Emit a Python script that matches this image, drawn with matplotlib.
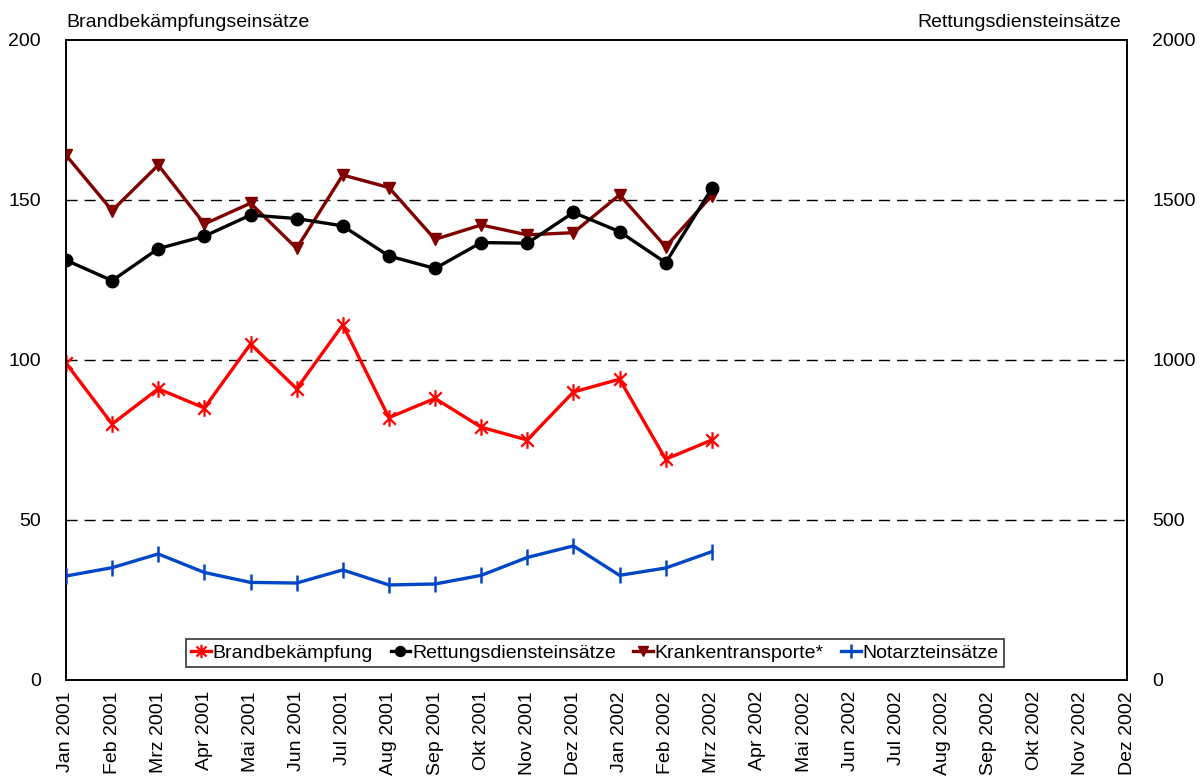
import matplotlib
matplotlib.use("Agg")
import matplotlib.pyplot as plt
from matplotlib.path import Path
import numpy as np

plt.rcParams['font.family'] = ['Liberation Sans', 'DejaVu Sans']

months = ["Jan 2001", "Feb 2001", "Mrz 2001", "Apr 2001", "Mai 2001", "Jun 2001",
          "Jul 2001", "Aug 2001", "Sep 2001", "Okt 2001", "Nov 2001", "Dez 2001",
          "Jan 2002", "Feb 2002", "Mrz 2002", "Apr 2002", "Mai 2002", "Jun 2002",
          "Jul 2002", "Aug 2002", "Sep 2002", "Okt 2002", "Nov 2002", "Dez 2002"]

brand = [99, 80, 91, 85, 105, 91, 111, 82, 88, 79, 75, 90, 94, 69, 75]
rettung = [1312, 1248, 1348, 1387, 1453, 1442, 1419, 1325, 1286, 1367, 1365, 1461, 1401, 1304, 1536]
kranken = [1640, 1467, 1609, 1425, 1490, 1349, 1578, 1539, 1377, 1422, 1391, 1398, 1516, 1354, 1514]
notarzt = [325, 351, 394, 336, 305, 303, 344, 297, 300, 327, 383, 419, 327, 350, 401]

left_ticks = [0, 50, 100, 150, 200]
right_ticks = [0, 500, 1000, 1500, 2000]

star = Path([(0, -1), (0, 1), (-0.75, -0.75), (0.75, 0.75), (-0.75, 0.75), (0.75, -0.75)],
            [Path.MOVETO, Path.LINETO, Path.MOVETO, Path.LINETO, Path.MOVETO, Path.LINETO])

FS = 14

fig = plt.figure(figsize=(12.04, 7.82), dpi=100)
ax = fig.add_axes([66/1204, 1-680/782, (1127-66)/1204, 640/782])
ax2 = ax.twinx()

x_all = np.arange(len(months))
ax.set_xlim(0, len(months) - 1)
ax.set_ylim(0, 200)
ax2.set_ylim(0, 2000)

for v in [50, 100, 150]:
    ax.axhline(v, color='black', lw=1.0, ls=(0, (8, 5)), zorder=1)

xs = np.arange(len(brand))
l1, = ax.plot(xs, brand, color='#ff0000', lw=2.4, marker=star, ms=12, mew=1.6,
              mec='#ff0000', label='Brandbekämpfung', zorder=5)
l2, = ax2.plot(xs, rettung, color='black', lw=2.4, marker='o', ms=9,
               label='Rettungsdiensteinsätze', zorder=5)
l3, = ax2.plot(xs, kranken, color='#800000', lw=2.4, marker='v', ms=9,
               label='Krankentransporte*', zorder=4)
l4, = ax2.plot(xs, notarzt, color='#0047c8', lw=2.4, marker='|', ms=12, mew=1.8,
               label='Notarzteinsätze', zorder=4)

ax.set_xticks(x_all)
ax.set_xticklabels(months, rotation=90, fontsize=FS)
ax.set_yticks(left_ticks)
ax.set_yticklabels([str(t) for t in left_ticks], fontsize=FS)
ax2.set_yticks(right_ticks)
ax2.set_yticklabels([str(t) for t in right_ticks], fontsize=FS)
ax.tick_params(axis='x', length=0, pad=8)
ax2.tick_params(axis='y', length=0, pad=18)
ax.tick_params(axis='y', length=0, pad=18)

for a in (ax, ax2):
    for s in a.spines.values():
        s.set_linewidth(1.2)
        s.set_color('black')

fig.text(66/1204, 1-27/782, 'Brandbekämpfungseinsätze', fontsize=FS, ha='left', va='baseline')
fig.text(1121/1204, 1-27/782, 'Rettungsdiensteinsätze', fontsize=FS, ha='right', va='baseline')

leg = ax.legend(handles=[l1, l2, l3, l4], loc='center', bbox_to_anchor=((595-66)/1061, (680-653)/640),
                ncol=4, frameon=True, fancybox=False, edgecolor='black', fontsize=FS,
                handlelength=1.0, handletextpad=0.1, columnspacing=0.9, borderpad=0.25,
                markerscale=0.8)
leg.get_frame().set_linewidth(1.2)
leg.set_zorder(10)

fig.savefig('out.png', dpi=100)
